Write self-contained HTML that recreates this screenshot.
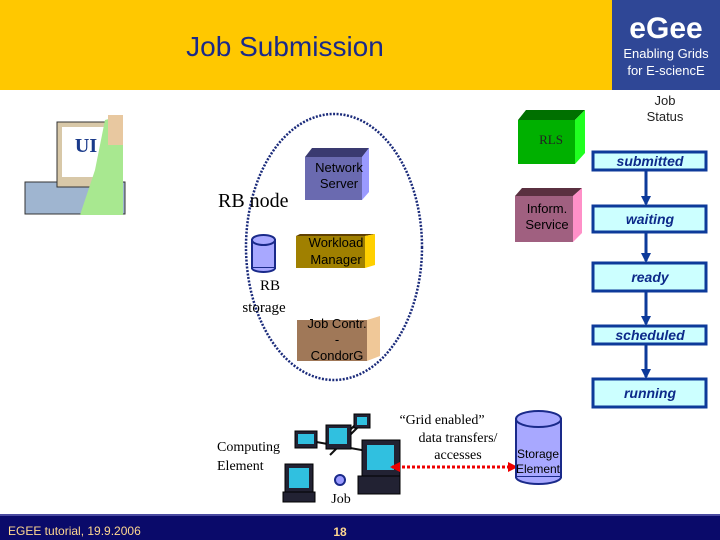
<!DOCTYPE html>
<html><head><meta charset="utf-8"><style>
body{margin:0;width:720px;height:540px;overflow:hidden;background:#fff}
svg{display:block}
</style></head><body>
<svg width="720" height="540" xmlns="http://www.w3.org/2000/svg" font-family="Liberation Sans, sans-serif">
<defs>
<marker id="ar" markerUnits="userSpaceOnUse" markerWidth="10" markerHeight="10" refX="8" refY="5" orient="auto"><path d="M0,0 L10,5 L0,10z" fill="#0d3a9a"/></marker>
<marker id="rd" markerUnits="userSpaceOnUse" markerWidth="10" markerHeight="10" refX="8" refY="5" orient="auto-start-reverse"><path d="M0,0 L10,5 L0,10z" fill="#e00"/></marker>
</defs>
<rect x="0" y="0" width="612" height="90" fill="#ffc800"/>
<rect x="612" y="0" width="108" height="90" fill="#2f4796"/>
<text x="666" y="38" fill="#fff" font-size="30" font-weight="bold" text-anchor="middle">eGee</text>
<text x="666" y="58" fill="#fff" font-size="13" text-anchor="middle">Enabling Grids</text>
<text x="666" y="75" fill="#fff" font-size="13" text-anchor="middle">for E-sciencE</text>
<text x="285" y="56" font-size="28" fill="#1a2a8a" text-anchor="middle">Job Submission</text>

<!-- UI -->
<rect x="25" y="182" width="100" height="32" fill="#9fb5d0" stroke="#333"/>
<rect x="57" y="122" width="62" height="65" fill="#d8c8a8" stroke="#333"/>
<rect x="62" y="127" width="52" height="50" fill="#fff"/>
<text x="86" y="152" font-family="Liberation Serif,serif" font-weight="bold" font-size="20" fill="#1a3a8a" text-anchor="middle">UI</text>
<path d="M105,120 L123,115 L123,215 L80,215 L95,170 Z" fill="#a8e890"/>
<rect x="108" y="115" width="15" height="30" fill="#e8c8a0"/>

<!-- ellipse -->
<ellipse cx="334" cy="247" rx="88" ry="133" fill="none" stroke="#1a2a7a" stroke-width="2.5" stroke-dasharray="2,1.5"/>
<text x="218" y="207" font-family="Liberation Serif,serif" font-size="20">RB node</text>

<!-- 3D boxes -->
<g font-size="13" text-anchor="middle">
<polygon points="305,157 312,148 369,148 362,157" fill="#3a3a70"/>
<polygon points="362,157 369,148 369,192 362,200" fill="#9a9aff"/>
<rect x="305" y="157" width="57" height="43" fill="#6a6ab0"/>
<text x="339" y="172">Network</text><text x="339" y="188">Server</text>

<polygon points="296,236 300,234 375,234 365,236" fill="#604000"/>
<polygon points="365,236 375,234 375,265 365,268" fill="#ffd000"/>
<rect x="296" y="236" width="69" height="32" fill="#a08000"/>
<text x="336" y="247">Workload</text><text x="336" y="264">Manager</text>

<polygon points="367,320 380,316 380,356 367,361" fill="#f0c898"/>
<rect x="297" y="320" width="70" height="41" fill="#a07858"/>
<text x="337" y="328">Job Contr.</text><text x="337" y="344">-</text><text x="337" y="360">CondorG</text>

<polygon points="518,120 526,110 585,110 575,120" fill="#007000"/>
<polygon points="575,120 585,110 585,153 575,164" fill="#20ff20"/>
<rect x="518" y="120" width="57" height="44" fill="#00b000"/>
<text x="551" y="144" font-family="Liberation Serif,serif" fill="#222">RLS</text>

<polygon points="515,196 522,188 582,188 573,196" fill="#5a3040"/>
<polygon points="573,196 582,188 582,233 573,242" fill="#ff90c8"/>
<rect x="515" y="196" width="58" height="46" fill="#a06080"/>
<text x="547" y="213">Inform.</text><text x="547" y="229">Service</text>
</g>

<!-- RB storage -->
<rect x="252" y="240" width="23" height="28" fill="#a8a8ff" stroke="#1a2a8a" stroke-width="2"/>
<ellipse cx="263.5" cy="240" rx="11.5" ry="5" fill="#a8a8ff" stroke="#1a2a8a" stroke-width="2"/>
<path d="M252,268 a11.5,4 0 0 0 23,0" fill="#a8a8ff" stroke="#1a2a8a" stroke-width="2"/>
<text x="270" y="290" font-family="Liberation Serif,serif" font-size="15" text-anchor="middle">RB</text>
<text x="264" y="312" font-family="Liberation Serif,serif" font-size="15" text-anchor="middle">storage</text>

<!-- Job status -->
<text x="665" y="105" font-size="13" text-anchor="middle" fill="#222">Job</text>
<text x="665" y="121" font-size="13" text-anchor="middle" fill="#222">Status</text>
<g stroke="#0d3a9a" stroke-width="3" fill="#ccffff">
<rect x="593" y="152" width="113" height="18"/>
<rect x="593" y="206" width="113" height="26"/>
<rect x="593" y="263" width="113" height="28"/>
<rect x="593" y="326" width="113" height="18"/>
<rect x="593" y="379" width="113" height="28"/>
<line x1="646" y1="171" x2="646" y2="204" marker-end="url(#ar)"/>
<line x1="646" y1="233" x2="646" y2="261" marker-end="url(#ar)"/>
<line x1="646" y1="292" x2="646" y2="324" marker-end="url(#ar)"/>
<line x1="646" y1="345" x2="646" y2="377" marker-end="url(#ar)"/>
</g>
<g font-size="14" font-weight="bold" font-style="italic" fill="#0d2a8a" text-anchor="middle">
<text x="650" y="166">submitted</text>
<text x="650" y="224">waiting</text>
<text x="650" y="282">ready</text>
<text x="650" y="340">scheduled</text>
<text x="650" y="398">running</text>
</g>

<!-- Computing element -->
<g font-family="Liberation Serif,serif" font-size="14">
<text x="217" y="451">Computing</text><text x="217" y="470">Element</text>
<text x="442" y="424" text-anchor="middle">“Grid enabled”</text>
<text x="458" y="442" text-anchor="middle">data transfers/</text>
<text x="458" y="459" text-anchor="middle">accesses</text>
<text x="341" y="503" text-anchor="middle">Job</text>
</g>
<g stroke="#111" stroke-width="2"><line x1="305" y1="440" x2="390" y2="455"/><line x1="330" y1="455" x2="365" y2="420"/><line x1="345" y1="435" x2="360" y2="420"/></g>
<g fill="#223" stroke="#000">
<rect x="354" y="414" width="16" height="14"/><rect x="295" y="431" width="22" height="17"/>
<rect x="326" y="425" width="25" height="24"/><rect x="285" y="464" width="28" height="28"/>
<rect x="362" y="440" width="38" height="36"/><rect x="358" y="476" width="42" height="18"/>
<rect x="283" y="492" width="32" height="10"/>
</g>
<g fill="#30c0e0"><rect x="357" y="417" width="10" height="8"/><rect x="298" y="434" width="16" height="10"/><rect x="329" y="428" width="18" height="16"/><rect x="289" y="468" width="20" height="20"/><rect x="367" y="445" width="27" height="25"/></g>
<circle cx="340" cy="480" r="5" fill="#9a9aff" stroke="#1a2a8a" stroke-width="2"/>
<line x1="392" y1="467" x2="516" y2="467" stroke="#e00" stroke-width="3" stroke-dasharray="3,2" marker-start="url(#rd)" marker-end="url(#rd)"/>
<rect x="516" y="419" width="45" height="58" fill="#a8a8ff" stroke="#1a2a8a" stroke-width="2"/>
<ellipse cx="538.5" cy="419" rx="22.5" ry="8" fill="#a8a8ff" stroke="#1a2a8a" stroke-width="2"/>
<path d="M516,477 a22.5,7 0 0 0 45,0" fill="#a8a8ff" stroke="#1a2a8a" stroke-width="2"/>
<text x="538" y="458" font-size="12" text-anchor="middle">Storage</text>
<text x="538" y="473" font-size="12" text-anchor="middle">Element</text>

<!-- footer -->
<rect x="0" y="514" width="720" height="26" fill="#0a0a6a"/>
<rect x="0" y="514" width="720" height="2" fill="#4a4aa0"/>
<text x="8" y="535" font-size="12" fill="#ffd890">EGEE tutorial, 19.9.2006</text>
<text x="340" y="536" font-size="12" font-weight="bold" fill="#ffd890" text-anchor="middle">18</text>
</svg>
</body></html>
